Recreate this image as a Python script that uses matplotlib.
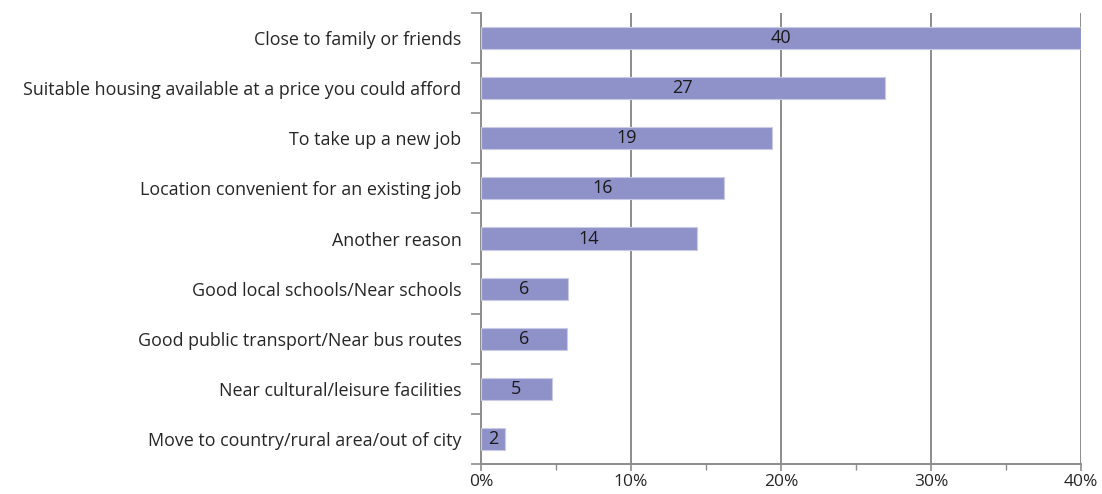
import matplotlib
matplotlib.use("Agg")
import matplotlib.pyplot as plt
from matplotlib.ticker import MultipleLocator, PercentFormatter

categories = [
    "Close to family or friends",
    "Suitable housing available at a price you could afford",
    "To take up a new job",
    "Location convenient for an existing job",
    "Another reason",
    "Good local schools/Near schools",
    "Good public transport/Near bus routes",
    "Near cultural/leisure facilities",
    "Move to country/rural area/out of city",
]
values = [40.0, 26.9, 19.4, 16.2, 14.4, 5.8, 5.7, 4.7, 1.6]

plt.rcParams["font.family"] = ["Open Sans", "DejaVu Sans"]

fig = plt.figure(figsize=(11.02, 4.94), dpi=100)
ax = fig.add_axes([0.4365, 0.0607, 0.5445, 0.913])

n = len(categories)
ypos = list(range(n))
ax.barh(ypos, values, height=0.44, color="#8f92c8",
        edgecolor="#c9cbe6", linewidth=0.8, zorder=3)

for y, v in zip(ypos, values):
    ax.text(v / 2, y, f"{round(v):d}", ha="center", va="center",
            fontsize=13, color="#1a1a1a", zorder=4)

ax.set_ylim(n - 0.5, -0.5)
ax.set_xlim(0, 40)

ax.xaxis.set_major_locator(MultipleLocator(10))
ax.xaxis.set_minor_locator(MultipleLocator(5))
ax.xaxis.set_major_formatter(PercentFormatter(decimals=0))
ax.grid(axis="x", which="major", color="#8c8c8c", linewidth=1.4, zorder=1)

ax.set_yticks([i - 0.5 for i in range(n + 1)])
ax.set_yticklabels([])
ax.set_yticks(ypos, minor=True)
ax.set_yticklabels(categories, minor=True)
ax.tick_params(axis="y", which="minor", length=0, pad=14,
               labelsize=12.9, labelcolor="#262626")
ax.tick_params(axis="y", which="major", length=7, width=1.2, color="#8c8c8c")
ax.tick_params(axis="x", which="major", length=5, width=1.2, color="#8c8c8c",
               labelsize=12.5, labelcolor="#262626", pad=2)
ax.tick_params(axis="x", which="minor", length=4, width=1.0, color="#8c8c8c")

for side in ("top", "right"):
    ax.spines[side].set_visible(False)
for side in ("left", "bottom"):
    ax.spines[side].set_color("#8c8c8c")
    ax.spines[side].set_linewidth(1.4)

fig.savefig("out.png", dpi=100)
